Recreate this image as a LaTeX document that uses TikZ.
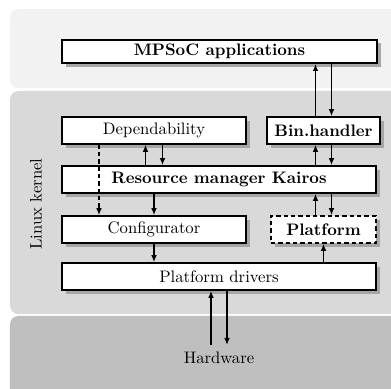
\documentclass[tikz,border=0pt]{standalone}
\usetikzlibrary{shadows,arrows.meta}
\definecolor{appbg}{gray}{0.95}
\definecolor{kernbg}{gray}{0.85}
\definecolor{hwbg}{gray}{0.75}
\tikzset{
  layerbox/.style={rounded corners=5pt},
  box/.style={draw, line width=1pt, fill=white, inner sep=0pt,
    minimum height=16.2pt,
    drop shadow={shadow xshift=2.2pt, shadow yshift=-2.2pt, fill=black!35, opacity=1}},
  dashbox/.style={box, dash pattern=on 2.6pt off 1.8pt},
  arr/.style={line width=1pt, -{Latex[length=4.2pt,width=3.4pt]}},
  dasharr/.style={arr, dash pattern=on 2.6pt off 1.8pt}
}
\begin{document}
\begin{tikzpicture}[x=0.6pt, y=-0.6pt]
\useasboundingbox (0,0) rectangle (391,389);
\clip (0,0) rectangle (391,389);

% layers: applications, kernel, hardware
\fill[appbg, layerbox] (10,9) rectangle (410,88);
\fill[kernbg, layerbox] (10,91) rectangle (410,314);
\fill[hwbg, layerbox] (10,316) rectangle (410,410);

% components
\node[box, minimum width=189pt, minimum height=14pt] (mpsoc) at (219.5,51.5) {\textbf{MPSoC applications}};
\node[box, minimum width=110.4pt] (dep) at (154,130.5) {Dependability};
\node[box, minimum width=67.8pt] (bin) at (323.5,130.5) {\textbf{Bin.handler}};
\node[box, minimum width=188.4pt] (kairos) at (219,179.5) {\textbf{Resource manager Kairos}};
\node[box, minimum width=110.4pt] (config) at (154,229.5) {Configurator};
\node[dashbox, minimum width=63pt] (platform) at (323.5,229.5) {\textbf{Platform}};
\node[box, minimum width=188.4pt] (drivers) at (219,276.5) {Platform drivers};
\node[anchor=north, inner sep=4.2pt] (hw) at (219,345) {Hardware};
\node[rotate=90] (lk) at (36,204) {Linux kernel};

% applications <-> binary handler
\draw[arr] ([xshift=-4.8pt]bin.north) -- ([xshift=-4.8pt]bin.north |- mpsoc.south);
\draw[arr] ([xshift=4.8pt]bin.north |- mpsoc.south) -- ([xshift=4.8pt]bin.north);

% dependability <-> resource manager
\draw[arr] ([xshift=-5.1pt]dep.south |- kairos.north) -- ([xshift=-5.1pt]dep.south);
\draw[arr] ([xshift=5.1pt]dep.south) -- ([xshift=5.1pt]dep.south |- kairos.north);

% binary handler <-> resource manager
\draw[arr] ([xshift=-4.8pt]bin.south |- kairos.north) -- ([xshift=-4.8pt]bin.south);
\draw[arr] ([xshift=4.8pt]bin.south) -- ([xshift=4.8pt]bin.south |- kairos.north);

% resource manager <-> platform
\draw[arr] ([xshift=-4.8pt]platform.north) -- ([xshift=-4.8pt]platform.north |- kairos.south);
\draw[arr] ([xshift=4.8pt]platform.north |- kairos.south) -- ([xshift=4.8pt]platform.north);

% resource manager -> configurator -> drivers
\draw[arr] (config.north |- kairos.south) -- (config.north);
\draw[arr] (config.south) -- (config.south |- drivers.north);

% dependability -> configurator (direct)
\draw[dasharr] ([xshift=-33pt]dep.south) -- ([xshift=-33pt]config.north);

% drivers -> platform
\draw[arr] (platform.south |- drivers.north) -- (platform.south);

% drivers <-> hardware
\draw[arr] ([xshift=-4.8pt]hw.north) -- ([xshift=-4.8pt]hw.north |- drivers.south);
\draw[arr] ([xshift=4.8pt]hw.north |- drivers.south) -- ([xshift=4.8pt]hw.north);
\end{tikzpicture}
\end{document}
